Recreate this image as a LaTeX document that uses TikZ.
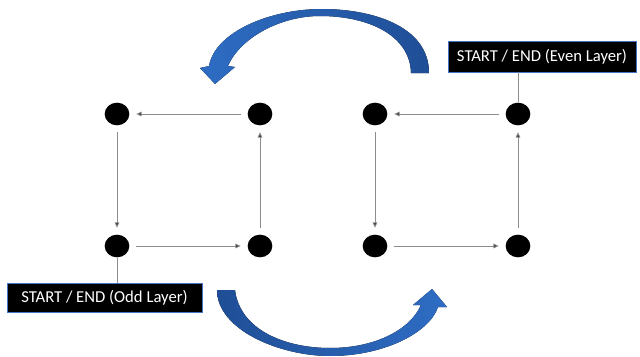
\documentclass[tikz,border=0pt]{standalone}
\usepackage{fontspec}
\setmainfont{Carlito}
\usepackage{tikz}
\usetikzlibrary{shapes.geometric, arrows.meta, positioning}
\definecolor{flowdark}{HTML}{1F4E96}
\definecolor{flowlight}{HTML}{2E6DC4}
\definecolor{boxline}{HTML}{4472C4}
\tikzset{
  dot/.style={ellipse, fill=black, inner sep=0pt, minimum width=18.5pt, minimum height=17pt},
  edge/.style={-{Triangle[length=4pt, width=3.5pt, fill=black!80]}, draw=gray!90, line width=0.6pt, shorten >=5pt, shorten <=5pt},
  layerlabel/.style={rectangle, draw=boxline, line width=0.5pt, fill=black, text=white, inner sep=0pt, minimum height=22pt, font=\fontsize{12.5}{14}\selectfont},
  tie/.style={draw=gray!90, line width=0.6pt},
}

\begin{document}
\begin{tikzpicture}[x=0.75pt, y=-0.75pt]
  \useasboundingbox (0,0) rectangle (640,357);
  % Nodes
  \node[dot] (a1) at (117,114) {};
  \node[dot] (a2) at (260,114) {};
  \node[dot] (a3) at (117,246) {};
  \node[dot] (a4) at (260,246) {};
  \node[dot] (b1) at (375,114) {};
  \node[dot] (b2) at (518,114) {};
  \node[dot] (b3) at (375,246) {};
  \node[dot] (b4) at (518,246) {};
  \node[layerlabel, minimum width=146pt] (odd) at (104.5,297.5) {START / END (Odd Layer)};
  \node[layerlabel, minimum width=141pt, minimum height=23pt] (even) at (542,56.5) {START / END (Even Layer)};

  % Arrows
  \draw[edge] (a2) -- (a1);
  \draw[edge] (a1) -- (a3);
  \draw[edge] (a3) -- (a4);
  \draw[edge] (a4) -- (a2);
  \draw[edge] (b2) -- (b1);
  \draw[edge] (b1) -- (b3);
  \draw[edge] (b3) -- (b4);
  \draw[edge] (b4) -- (b2);
  \draw[tie] (a3.south) -- (a3.south |- odd.north);
  \draw[tie] (b2.north) -- (b2.north |- even.south);

  % Curved layer arrows
  \fill[left color=flowlight, right color=flowdark]
    (429,73) .. controls (429,25) and (370,9) .. (322,9)
    .. controls (270,9) and (215,32) .. (209,66)
    -- (200,68) -- (215,84) -- (235,67) -- (228,66)
    .. controls (240,38) and (280,16) .. (320,16)
    .. controls (368,16) and (410,35) .. (411,73) -- cycle;
  \fill[left color=flowdark, right color=flowlight]
    (217,290) .. controls (217,330) and (280,356) .. (330,356)
    .. controls (385,356) and (430,332) .. (438,307)
    -- (447,307) -- (432,289) -- (413,305) -- (421,305)
    .. controls (410,330) and (375,348) .. (330,348)
    .. controls (285,348) and (240,330) .. (235,290) -- cycle;
\end{tikzpicture}
\end{document}
